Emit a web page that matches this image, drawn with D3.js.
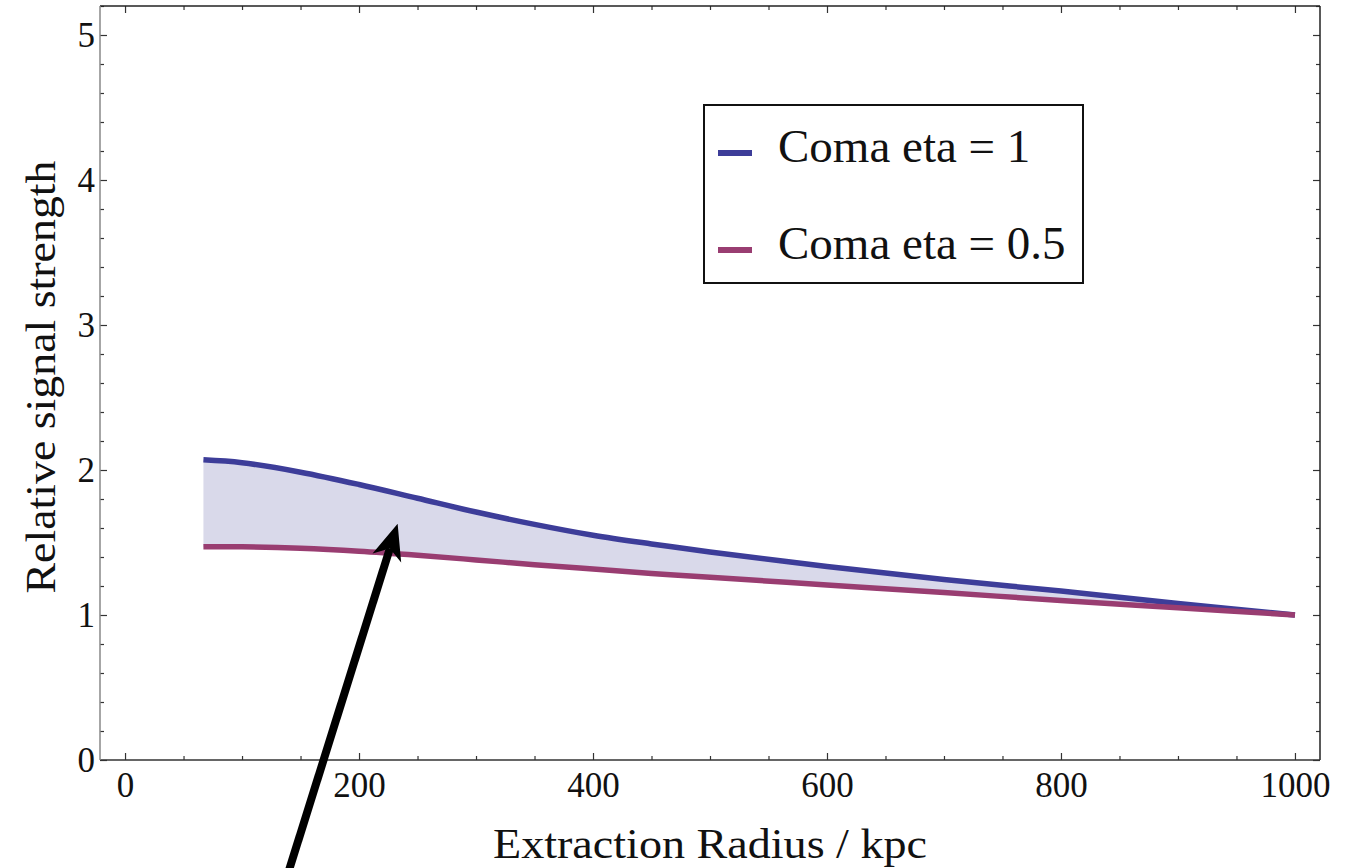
<!DOCTYPE html>
<html>
<head>
<meta charset="utf-8">
<script src="https://cdn.jsdelivr.net/npm/d3@7"></script>
<style>
  html, body { margin: 0; padding: 0; background: #fff; }
  svg { display: block; }
  text { font-family: "Liberation Serif", "Times New Roman", serif; fill: #111; }
</style>
</head>
<body>
<svg id="chart" width="1361" height="868"></svg>
<script>
// ---------- data ----------
const radius = [67, 100, 150, 200, 250, 300, 350, 400, 450, 500, 600, 700, 800, 900, 1000];
const etaOne = [2.07, 2.05, 1.985, 1.90, 1.805, 1.71, 1.625, 1.55, 1.49, 1.435, 1.335, 1.245, 1.165, 1.08, 1.00];
const etaHalf = [1.47, 1.47, 1.46, 1.44, 1.412, 1.38, 1.347, 1.317, 1.287, 1.26, 1.207, 1.155, 1.10, 1.05, 1.00];
const seriesNames = ["Coma eta = 1", "Coma eta = 0.5"];
const xTickLabels = [0, 200, 400, 600, 800, 1000];
const yTickLabels = [0, 1, 2, 3, 4, 5];
const xLabel = "Extraction Radius / kpc";
const yLabel = "Relative signal strength";
const arrowFrom = [132, -0.97];
const arrowTo = [233, 1.63];

// ---------- layout ----------
const L = 100, R = 1320, T = 6, B = 760;
const colors = ["#3d3d99", "#993d71"];
const fillColor = "#d9d9ea";

const svg = d3.select("#chart");
const x = d3.scaleLinear().domain([-21.4, 1021.4]).range([L, R]);
const y = d3.scaleLinear().domain([0, 5.2]).range([B, T]);

const xMinor = d3.range(0, 1001, 50).filter(v => !xTickLabels.includes(v));
const yMinorVals = d3.range(0, 27).map(i => +(i * 0.2).toFixed(1)).filter(v => Math.abs(v - Math.round(v)) > 1e-6);

// fill between
const pts = radius.map((r, i) => ({ r, hi: etaOne[i], lo: etaHalf[i] }));
const curve = d3.curveCatmullRom.alpha(0.5);
svg.append("path")
  .datum(pts)
  .attr("fill", fillColor)
  .attr("d", d3.area().x(d => x(d.r)).y0(d => y(d.lo)).y1(d => y(d.hi)).curve(curve));

// lines
[etaOne, etaHalf].forEach((vals, k) => {
  svg.append("path")
    .datum(radius.map((r, i) => [r, vals[i]]))
    .attr("fill", "none")
    .attr("stroke", colors[k])
    .attr("stroke-width", 5.5)
    .attr("d", d3.line().x(d => x(d[0])).y(d => y(d[1])).curve(curve));
});

// ---------- axes / frame ----------
function styleAxis(g) {
  g.select(".domain").remove();
  g.selectAll(".tick line").attr("stroke", "#333").attr("stroke-width", 1.2);
  g.selectAll("text").style("font-family", "'Liberation Serif', serif").style("font-size", "35px").attr("fill", "#111");
}
// bottom
svg.append("g").attr("transform", `translate(0,${B})`)
  .call(d3.axisBottom(x).tickValues(xTickLabels).tickSizeInner(-7).tickSizeOuter(0).tickPadding(12).tickFormat(d3.format("d")))
  .call(styleAxis);
svg.append("g").attr("transform", `translate(0,${B})`)
  .call(d3.axisBottom(x).tickValues(xMinor).tickSizeInner(-4).tickSizeOuter(0).tickFormat(""))
  .call(styleAxis);
// top
svg.append("g").attr("transform", `translate(0,${T})`)
  .call(d3.axisTop(x).tickValues(xTickLabels).tickSizeInner(-7).tickSizeOuter(0).tickFormat(""))
  .call(styleAxis);
svg.append("g").attr("transform", `translate(0,${T})`)
  .call(d3.axisTop(x).tickValues(xMinor).tickSizeInner(-4).tickSizeOuter(0).tickFormat(""))
  .call(styleAxis);
// left
svg.append("g").attr("transform", `translate(${L},0)`)
  .call(d3.axisLeft(y).tickValues(yTickLabels).tickSizeInner(-7).tickSizeOuter(0).tickPadding(5).tickFormat(d3.format("d")))
  .call(styleAxis);
svg.append("g").attr("transform", `translate(${L},0)`)
  .call(d3.axisLeft(y).tickValues(yMinorVals).tickSizeInner(-4).tickSizeOuter(0).tickFormat(""))
  .call(styleAxis);
// right
svg.append("g").attr("transform", `translate(${R},0)`)
  .call(d3.axisRight(y).tickValues(yTickLabels).tickSizeInner(-7).tickSizeOuter(0).tickFormat(""))
  .call(styleAxis);
svg.append("g").attr("transform", `translate(${R},0)`)
  .call(d3.axisRight(y).tickValues(yMinorVals).tickSizeInner(-4).tickSizeOuter(0).tickFormat(""))
  .call(styleAxis);

// frame lines
svg.append("line").attr("x1", L).attr("x2", R).attr("y1", T).attr("y2", T).attr("stroke", "#222").attr("stroke-width", 1.5);
svg.append("line").attr("x1", R).attr("x2", R).attr("y1", T).attr("y2", B).attr("stroke", "#222").attr("stroke-width", 1.5);
svg.append("line").attr("x1", L).attr("x2", R).attr("y1", B).attr("y2", B).attr("stroke", "#333").attr("stroke-width", 1.5);
svg.append("line").attr("x1", L).attr("x2", L).attr("y1", T).attr("y2", B).attr("stroke", "#888").attr("stroke-width", 1.5);

// axis labels
svg.append("text").attr("x", (L + R) / 2).attr("y", 858)
  .attr("text-anchor", "middle").style("font-size", "42px")
  .attr("textLength", 434).attr("lengthAdjust", "spacingAndGlyphs").text(xLabel);
svg.append("text").attr("transform", `translate(55,377) rotate(-90)`)
  .attr("text-anchor", "middle").style("font-size", "42px")
  .attr("textLength", 433).attr("lengthAdjust", "spacingAndGlyphs").text(yLabel);

// ---------- legend ----------
const lg = svg.append("g");
lg.append("rect").attr("x", 704).attr("y", 105).attr("width", 379).attr("height", 178)
  .attr("fill", "#fff").attr("stroke", "#111").attr("stroke-width", 2);
seriesNames.forEach((name, k) => {
  const cy = 153 + k * 97;
  lg.append("line").attr("x1", 718).attr("x2", 752).attr("y1", cy).attr("y2", cy)
    .attr("stroke", colors[k]).attr("stroke-width", 6);
  lg.append("text").attr("x", 778).attr("y", cy + 9).style("font-size", "47px").text(name);
});

// ---------- arrow ----------
const ax0 = x(arrowFrom[0]), ay0 = y(arrowFrom[1]);
const ax1 = x(arrowTo[0]), ay1 = y(arrowTo[1]);
const len = Math.hypot(ax0 - ax1, ay0 - ay1);
const ux = (ax0 - ax1) / len, uy = (ay0 - ay1) / len;
const px = -uy, py = ux;
const headLen = 36, headHalf = 15, notch = 26;
svg.append("line")
  .attr("x1", ax0).attr("y1", ay0)
  .attr("x2", ax1 + ux * notch).attr("y2", ay1 + uy * notch)
  .attr("stroke", "#000").attr("stroke-width", 8);
svg.append("path")
  .attr("d", `M${ax1},${ay1} L${ax1 + ux * headLen + px * headHalf},${ay1 + uy * headLen + py * headHalf} L${ax1 + ux * notch},${ay1 + uy * notch} L${ax1 + ux * headLen - px * headHalf},${ay1 + uy * headLen - py * headHalf} Z`)
  .attr("fill", "#000");
</script>
</body>
</html>
